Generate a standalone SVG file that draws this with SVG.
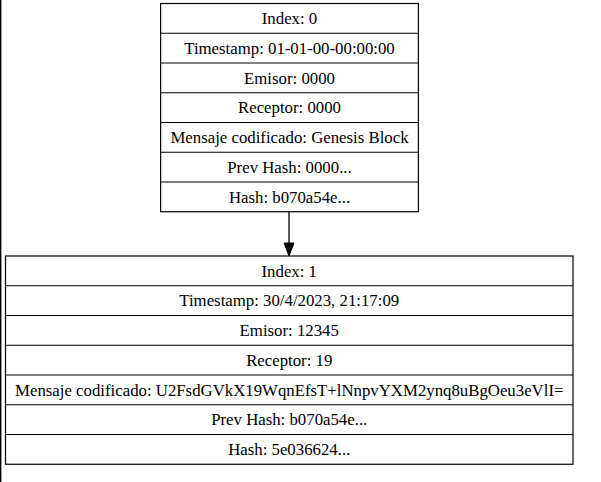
<svg xmlns="http://www.w3.org/2000/svg" width="601" height="482" viewBox="0 0 601 482">
<style>
.box{fill:#ffffff;stroke:#000000;stroke-width:1.2}
.sep{stroke:#000000;stroke-width:1.2}
.t{font-size:16.8px;fill:#000000;text-anchor:middle}
.edge{stroke:#000000;stroke-width:1.3;fill:none}
</style>
<rect x="0" y="0" width="601" height="482" fill="#ffffff"/>
<line x1="0.7" y1="0" x2="0.7" y2="482" stroke="#000000" stroke-width="1.4"/>
<g id="connectors">
<line class="edge" x1="289" y1="212" x2="289" y2="243"/>
<polygon points="284,243 294,243 289,256" fill="#000000" stroke="#000000" stroke-width="1"/>
</g>
<g font-family="Liberation Serif, DejaVu Serif, serif">
<g id="block0">
<rect class="box" x="160.6" y="3.5" width="257.8" height="208.25"/>
<line class="sep" x1="160.6" y1="33.25" x2="418.4" y2="33.25"/>
<line class="sep" x1="160.6" y1="63" x2="418.4" y2="63"/>
<line class="sep" x1="160.6" y1="92.75" x2="418.4" y2="92.75"/>
<line class="sep" x1="160.6" y1="122.5" x2="418.4" y2="122.5"/>
<line class="sep" x1="160.6" y1="152.25" x2="418.4" y2="152.25"/>
<line class="sep" x1="160.6" y1="182" x2="418.4" y2="182"/>
<text class="t" x="289.5" y="24">Index: 0</text>
<text class="t" x="289.5" y="53.75">Timestamp: 01-01-00-00:00:00</text>
<text class="t" x="289.5" y="83.5">Emisor: 0000</text>
<text class="t" x="289.5" y="113.25">Receptor: 0000</text>
<text class="t" x="289.5" y="143">Mensaje codificado: Genesis Block</text>
<text class="t" x="289.5" y="172.75">Prev Hash: 0000...</text>
<text class="t" x="289.5" y="202.5">Hash: b070a54e...</text>
</g>
<g id="block1">
<rect class="box" x="5.5" y="256" width="567.5" height="208.25"/>
<line class="sep" x1="5.5" y1="285.75" x2="573" y2="285.75"/>
<line class="sep" x1="5.5" y1="315.5" x2="573" y2="315.5"/>
<line class="sep" x1="5.5" y1="345.25" x2="573" y2="345.25"/>
<line class="sep" x1="5.5" y1="375" x2="573" y2="375"/>
<line class="sep" x1="5.5" y1="404.75" x2="573" y2="404.75"/>
<line class="sep" x1="5.5" y1="434.5" x2="573" y2="434.5"/>
<text class="t" x="289.25" y="276.5">Index: 1</text>
<text class="t" x="289.25" y="306.25">Timestamp: 30/4/2023, 21:17:09</text>
<text class="t" x="289.25" y="336">Emisor: 12345</text>
<text class="t" x="289.25" y="365.75">Receptor: 19</text>
<text class="t" x="289.25" y="395.5">Mensaje codificado: U2FsdGVkX19WqnEfsT+lNnpvYXM2ynq8uBgOeu3eVlI=</text>
<text class="t" x="289.25" y="425.25">Prev Hash: b070a54e...</text>
<text class="t" x="289.25" y="455">Hash: 5e036624...</text>
</g>
</g>
</svg>
